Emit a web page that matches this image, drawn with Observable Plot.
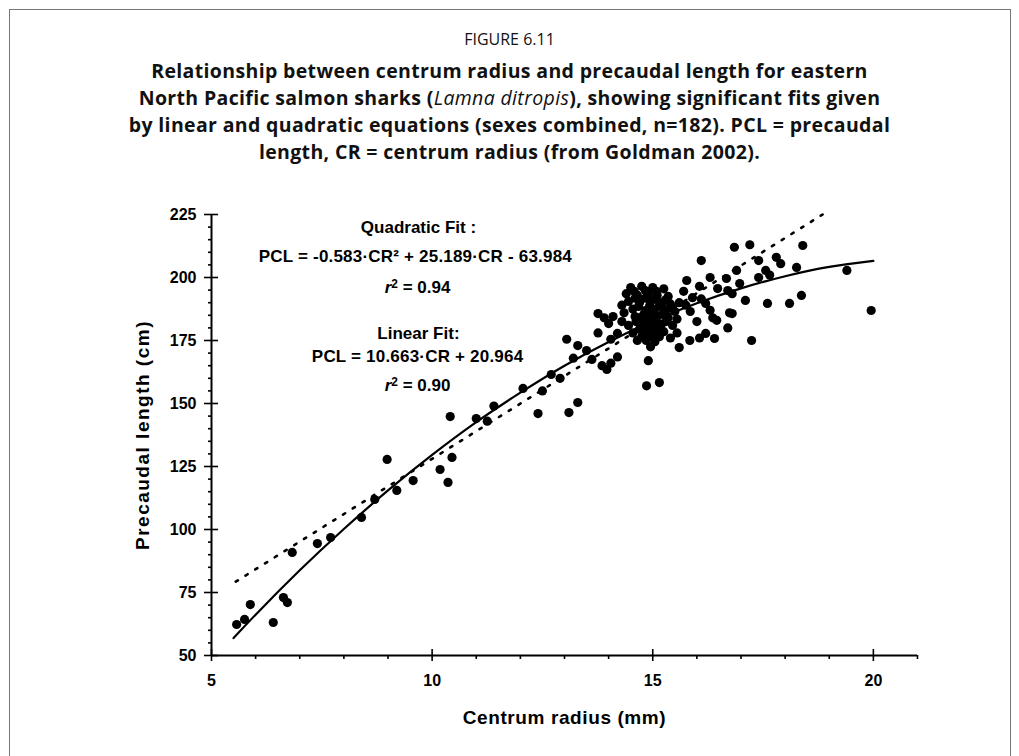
<!DOCTYPE html>
<html>
<head>
<meta charset="utf-8">
<script src="https://cdn.jsdelivr.net/npm/d3@7"></script>
<script src="https://cdn.jsdelivr.net/npm/@observablehq/plot@0.6"></script>
<style>
  html, body { margin: 0; padding: 0; background: #fff; }
  #frame { position: absolute; left: 9px; top: 9px; width: 1000px; height: 760px; border: 1.5px solid #777; }
  #title { position: absolute; top: 26px; left: 0; width: 1019px; text-align: center; font-family: "Open Sans", sans-serif; color: #111; }
  #title .fig { font-size: 16px; line-height: 27px; }
  #title .cap { font-size: 19.5px; font-weight: 700; line-height: 27px; margin-top: 4px; letter-spacing: 0.35px; }
  #chart { position: absolute; top: 180px; left: 0; }
</style>
</head>
<body>
<div id="frame"></div>
<div id="title">
  <div class="fig">FIGURE 6.11</div>
  <div class="cap">Relationship between centrum radius and precaudal length for eastern<br>North Pacific salmon sharks (<i style="font-weight:400">Lamna ditropis</i>), showing significant fits given<br>by linear and quadratic equations (sexes combined, n=182). PCL = precaudal<br>length, CR = centrum radius (from Goldman 2002).</div>
</div>
<div id="chart"></div>
<script>
// Axis ticks
const xTicks = [5, 10, 15, 20];
const xMinor = [6, 7, 8, 9, 11, 12, 13, 14, 16, 17, 18, 19, 21];
const yTicks = [50, 75, 100, 125, 150, 175, 200, 225];
const yMinor = [55, 60, 65, 70, 80, 85, 90, 95, 105, 110, 115, 120, 130, 135, 140, 145,
                155, 160, 165, 170, 180, 185, 190, 195, 205, 210, 215, 220];

const obsCR = [
  5.57, 5.75, 5.88, 6.40, 6.63, 6.72, 6.83, 7.40, 7.70, 8.40, 8.70, 8.98, 9.20, 9.57, 10.18, 10.36,
  10.41, 10.45, 11.00, 11.25, 11.40, 12.06, 12.40, 12.50, 12.70, 12.90, 13.10, 13.30, 13.05, 13.20,
  13.30, 13.50, 13.62, 13.85, 14.05, 14.20, 13.96, 13.76, 13.76, 13.90, 14.00, 14.10, 14.20, 14.30,
  14.05, 14.86, 15.15, 14.90,
  14.40, 14.50, 14.75, 15.00, 15.25, 14.45, 14.65, 14.90, 15.10, 15.35, 14.55, 14.70, 14.95, 15.15,
  15.40, 15.60, 14.60, 14.85, 15.05, 15.30, 15.50, 14.45, 14.70, 14.90, 15.10, 15.35, 15.55, 14.55,
  14.75, 14.95, 15.20, 15.45, 14.65, 14.80, 15.00, 15.25, 14.85, 15.05, 14.95, 15.40,
  14.58, 14.83, 15.08, 14.60, 14.83, 15.05, 15.28, 14.68, 14.93, 15.20, 15.45, 14.80, 15.00, 15.22,
  14.62, 14.85, 15.05, 15.30, 14.70, 14.90, 15.12, 14.75, 14.95, 15.15, 14.30, 14.35,
  15.55, 15.60, 15.84, 16.06, 16.20, 16.40, 16.70, 17.24, 15.77, 15.90, 16.06, 16.10, 16.20, 16.30,
  16.30, 16.36, 16.45, 16.47, 16.67, 16.70, 16.74, 16.80, 16.80, 16.85, 16.90, 16.97, 17.10, 17.20,
  17.40, 17.40, 17.56, 17.60, 17.65, 17.80, 17.90, 18.10, 18.26, 18.37, 18.40, 19.40, 19.95, 15.70,
  15.85, 16.00, 15.75, 16.10
];
const obsPCL = [
  62.3, 64.3, 70.2, 63.1, 73.0, 71.0, 90.9, 94.4, 96.8, 104.8, 111.9, 127.8, 115.5, 119.4, 123.8, 118.7,
  144.8, 128.6, 144.0, 143.0, 149.0, 156.0, 146.0, 155.0, 161.5, 160.0, 146.4, 150.4, 175.5, 168.0,
  173.0, 171.0, 167.5, 165.0, 166.0, 168.5, 163.5, 185.7, 178.0, 184.0, 181.7, 184.5, 177.8, 182.5,
  175.5, 157.0, 158.3, 167.0,
  193.6, 196.0, 196.5, 196.0, 195.5, 190.5, 193.0, 193.5, 193.0, 192.5, 187.5, 190.0, 190.5, 190.0,
  189.5, 190.0, 184.5, 187.0, 187.5, 187.0, 186.5, 181.0, 184.0, 184.0, 184.5, 184.0, 183.5, 178.0,
  181.0, 181.0, 181.5, 181.0, 175.0, 178.0, 178.0, 178.5, 175.0, 174.5, 172.5, 176.0,
  194.5, 194.8, 194.5, 191.8, 191.8, 191.5, 191.0, 188.5, 188.8, 188.5, 187.8, 185.5, 185.8, 185.5,
  182.5, 182.5, 182.8, 182.5, 179.5, 179.5, 179.8, 176.5, 176.5, 176.5, 189.0, 186.0,
  178.0, 172.2, 175.0, 176.0, 177.8, 175.8, 180.0, 175.0, 198.8, 192.0, 196.5, 206.7, 189.7, 200.0,
  187.0, 184.0, 183.0, 195.6, 199.6, 194.8, 186.0, 193.6, 185.7, 212.0, 202.8, 197.6, 190.9, 213.0,
  206.7, 200.0, 202.8, 189.7, 201.0, 208.0, 205.5, 189.7, 204.0, 192.9, 212.7, 202.8, 186.9, 194.5,
  186.5, 182.5, 189.0, 191.5
];

// Fitted curves as drawn (quadratic solid, linear dotted)
const quadCR  = [5.5, 6, 7, 8, 9, 10, 11, 12, 13, 14, 15, 16, 17, 18, 19, 20];
const quadPCL = [56.9, 66.2, 83.8, 100.2, 115.5, 129.6, 142.6, 154.3, 165.0, 174.4, 182.7, 189.8, 195.7, 200.5, 204.2, 206.6];
const linCR  = [5.55, 18.85];
const linPCL = [79.3, 225.0];

// Annotation texts
const annoText = ["Quadratic Fit :", "PCL = -0.583·CR² + 25.189·CR - 63.984", "r^2 = 0.94",
                  "Linear Fit:", "PCL = 10.663·CR + 20.964", "r^2 = 0.90"];
const annoCR  = [9.69, 9.62, 9.67, 9.69, 9.67, 9.67];
const annoPCL = [219.8, 208.3, 196.0, 177.8, 168.7, 157.1];

const points = obsCR.map((x, i) => ({x, y: obsPCL[i]}));
const quad = quadCR.map((x, i) => ({x, y: quadPCL[i]}));
const lin = linCR.map((x, i) => ({x, y: linPCL[i]}));
const anno = annoText.map((t, i) => ({t, x: annoCR[i], y: annoPCL[i]}));

const noText = () => "";

const plot = Plot.plot({
  width: 1019,
  height: 551,
  marginLeft: 211,
  marginRight: 102,
  marginTop: 34,
  marginBottom: 76,
  x: {domain: [5, 21]},
  y: {domain: [50, 225]},
  style: {fontFamily: "'Liberation Sans', Arial, sans-serif", fontWeight: "bold", color: "#000", background: "transparent"},
  marks: [
    Plot.ruleX([5], {strokeWidth: 2}),
    Plot.ruleY([50], {strokeWidth: 2}),
    Plot.axisY({ticks: yTicks, tickSize: 14, dx: 7, tickFormat: noText, label: null, strokeWidth: 1.6}),
    Plot.axisY({ticks: yMinor, tickSize: 4, dx: 1, tickFormat: noText, label: null, strokeWidth: 1.6}),
    Plot.axisY({ticks: yTicks, tickSize: 0, tickPadding: 15, label: null, fontSize: 16, fontWeight: "bold"}),
    Plot.axisX({ticks: xTicks, tickSize: 12, dy: -6, tickFormat: noText, label: null, strokeWidth: 1.6}),
    Plot.axisX({ticks: xMinor, tickSize: 4, tickFormat: noText, label: null, strokeWidth: 1.6}),
    Plot.axisX({ticks: xTicks, tickSize: 0, tickPadding: 19, label: null, fontSize: 16, fontWeight: "bold"}),
    Plot.text(["Centrum radius (mm)"], {frameAnchor: "bottom", dy: 62, lineAnchor: "middle", textAnchor: "middle", fontSize: 19, fontWeight: "bold"}),
    Plot.text(["Precaudal length (cm)"], {frameAnchor: "left", dx: -69, rotate: -90, textAnchor: "middle", lineAnchor: "middle", fontSize: 19, fontWeight: "bold"}),
    Plot.line(lin, {x: "x", y: "y", stroke: "black", strokeWidth: 2.6, strokeDasharray: "2.5,9"}),
    Plot.line(quad, {x: "x", y: "y", stroke: "black", strokeWidth: 2.2, curve: "natural"}),
    Plot.dot(points, {x: "x", y: "y", r: 4.6, fill: "black", stroke: "none"}),
    Plot.text(anno, {x: "x", y: "y", text: "t", fontSize: 17, fontWeight: "bold", textAnchor: "middle"})
  ]
});

d3.select(plot).selectAll("text").each(function() {
  const s = this.textContent;
  if (s.startsWith("r^2")) {
    const rest = s.slice(3);
    const el = d3.select(this);
    el.text(null);
    el.append("tspan").attr("font-style", "italic").text("r");
    el.append("tspan").attr("dy", "-0.45em").attr("font-size", "0.7em").text("2");
    el.append("tspan").attr("dy", "0.32em").text(rest);
  }
});
d3.select(plot).selectAll("text").filter(function() { return this.textContent === "Centrum radius (mm)"; })
  .attr("letter-spacing", "0.6px");
d3.select(plot).selectAll("text").filter(function() { return this.textContent === "Precaudal length (cm)"; })
  .attr("letter-spacing", "1.5px");
d3.select(plot).selectAll("text").filter(function() { return this.textContent.startsWith("PCL"); })
  .attr("letter-spacing", "0.2px");

document.getElementById("chart").appendChild(plot);
</script>
</body>
</html>
